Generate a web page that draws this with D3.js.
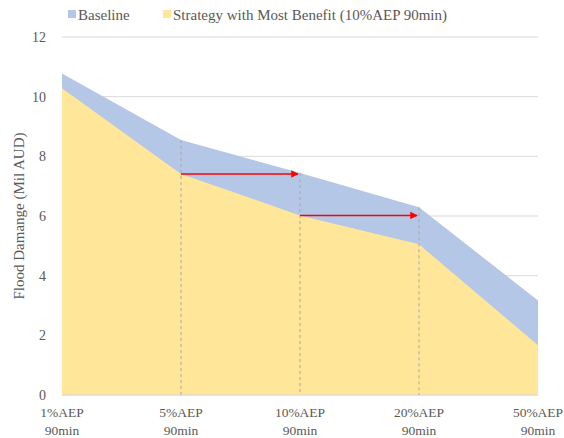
<!DOCTYPE html>
<html>
<head>
<meta charset="utf-8">
<script src="https://cdn.jsdelivr.net/npm/d3@7"></script>
<style>
  body { margin: 0; background: #fff; }
</style>
</head>
<body>
<div id="chart"></div>
<script>
var categories = ["1%AEP 90min", "5%AEP 90min", "10%AEP 90min", "20%AEP 90min", "50%AEP 90min"];
var baseline = [10.78, 8.55, 7.44, 6.29, 3.17];
var strategy = [10.28, 7.41, 6.02, 5.05, 1.67];
var yTicks = [0, 2, 4, 6, 8, 10, 12];
// arrows: from strategy value at i to baseline category i+1
var arrows = [{ from: 1, to: 2, value: 7.41 }, { from: 2, to: 3, value: 6.02 }];

var width = 564, height = 438;
var margin = { top: 37, right: 26, bottom: 43, left: 62 };
var serif = "'Liberation Serif', 'Times New Roman', Times, 'DejaVu Serif', serif";

var svg = d3.select("#chart").append("svg")
    .attr("width", width)
    .attr("height", height)
    .attr("font-family", serif)
    .style("font-family", serif);

var x = d3.scalePoint().domain(categories).range([margin.left, width - margin.right]);
var y = d3.scaleLinear().domain([0, 12]).range([height - margin.bottom, margin.top]);

// gridlines
svg.append("g").selectAll("line")
    .data(yTicks)
    .enter().append("line")
    .attr("x1", margin.left).attr("x2", width - margin.right)
    .attr("y1", function(d) { return y(d); }).attr("y2", function(d) { return y(d); })
    .attr("stroke", "#d9d9d9").attr("stroke-width", 1);

var areaBase = d3.area()
    .x(function(d, i) { return x(categories[i]); })
    .y0(y(0))
    .y1(function(d) { return y(d); });

svg.append("path").datum(baseline).attr("d", areaBase).attr("fill", "#b4c7e7");
svg.append("path").datum(strategy).attr("d", areaBase).attr("fill", "#ffe699");

// axis baseline
svg.append("line")
    .attr("x1", margin.left).attr("x2", width - margin.right)
    .attr("y1", y(0)).attr("y2", y(0))
    .attr("stroke", "#d9d9d9");

// dashed drop lines
svg.append("g").selectAll("line")
    .data([1, 2, 3])
    .enter().append("line")
    .attr("x1", function(i) { return x(categories[i]); })
    .attr("x2", function(i) { return x(categories[i]); })
    .attr("y1", function(i) { return y(baseline[i]); })
    .attr("y2", y(0))
    .attr("stroke", "#a6a6a6").attr("stroke-width", 1)
    .attr("stroke-dasharray", "3,3");

// arrows
svg.append("defs").append("marker")
    .attr("id", "arrowhead")
    .attr("viewBox", "0 0 10 10")
    .attr("refX", 9).attr("refY", 5)
    .attr("markerWidth", 5).attr("markerHeight", 5)
    .attr("orient", "auto")
    .append("path").attr("d", "M0,0L10,5L0,10Z").attr("fill", "#ff0000");

svg.append("g").selectAll("line")
    .data(arrows)
    .enter().append("line")
    .attr("x1", function(d) { return x(categories[d.from]); })
    .attr("x2", function(d) { return x(categories[d.to]) - 2; })
    .attr("y1", function(d) { return y(d.value); })
    .attr("y2", function(d) { return y(d.value); })
    .attr("stroke", "#ff0000").attr("stroke-width", 1.5)
    .attr("marker-end", "url(#arrowhead)");

// y tick labels
svg.append("g").selectAll("text")
    .data(yTicks)
    .enter().append("text")
    .attr("x", 46)
    .attr("y", function(d) { return y(d) + 5; })
    .attr("text-anchor", "end")
    .attr("fill", "#595959")
    .style("font-size", "14px")
    .text(function(d) { return d; });

// x labels
var xl = svg.append("g").selectAll("text")
    .data(categories)
    .enter().append("text")
    .attr("text-anchor", "middle")
    .attr("fill", "#595959")
    .style("font-size", "13.5px");
xl.append("tspan")
    .attr("x", function(d) { return x(d); })
    .attr("y", 417)
    .text(function(d) { return d.split(" ")[0]; });
xl.append("tspan")
    .attr("x", function(d) { return x(d); })
    .attr("y", 435)
    .text(function(d) { return d.split(" ")[1]; });

// y title
svg.append("text")
    .attr("transform", "translate(24," + ((margin.top + height - margin.bottom) / 2) + ") rotate(-90)")
    .attr("text-anchor", "middle")
    .attr("fill", "#595959")
    .style("font-size", "15px")
    .text("Flood Damange (Mil AUD)");

// legend
var legend = [{ name: "Baseline", color: "#b4c7e7", x: 68 }, { name: "Strategy with Most Benefit (10%AEP 90min)", color: "#ffe699", x: 163 }];
var lg = svg.append("g").selectAll("g").data(legend).enter().append("g");
lg.append("rect")
    .attr("x", function(d) { return d.x; }).attr("y", 10)
    .attr("width", 8).attr("height", 8)
    .attr("fill", function(d) { return d.color; });
lg.append("text")
    .attr("x", function(d) { return d.x + 10; }).attr("y", 20)
    .attr("fill", "#595959")
    .style("font-size", "15px")
    .text(function(d) { return d.name; });
</script>
</body>
</html>
